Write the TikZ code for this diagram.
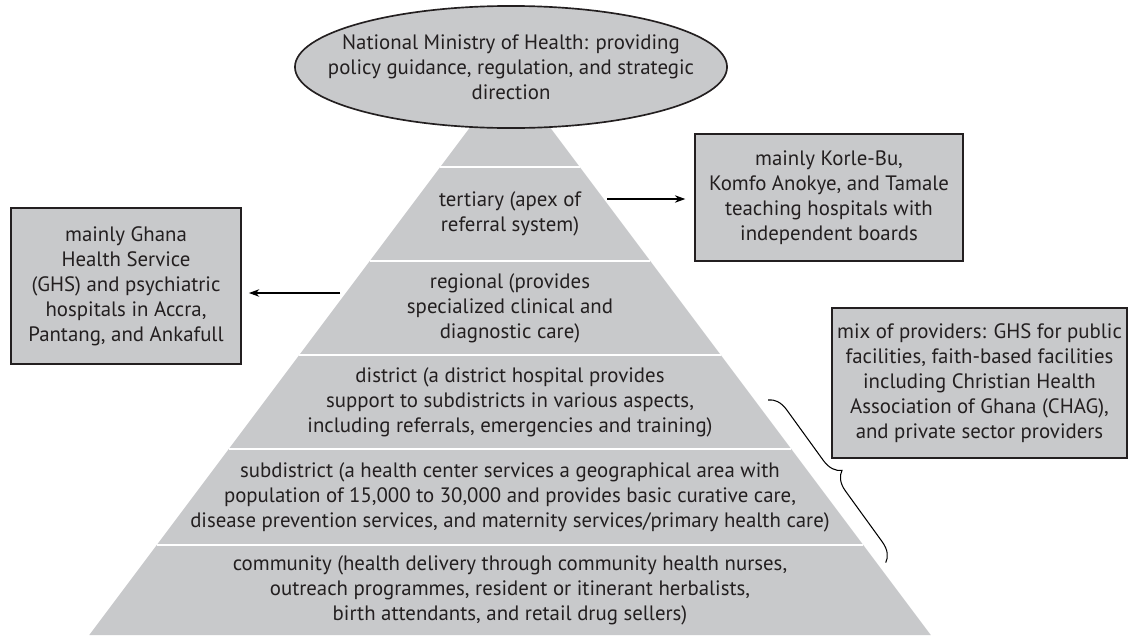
\documentclass[tikz,border=0pt]{standalone}
\usepackage{fontspec}
\setmainfont{PT Sans}
\usepackage{xcolor}
\usetikzlibrary{decorations.pathreplacing,arrows.meta}
\definecolor{tiergray}{RGB}{200,201,203}
\definecolor{inkdark}{RGB}{35,31,32}
\tikzset{
  infobox/.style={draw=inkdark, line width=0.8pt, fill=tiergray, align=center,
    inner sep=0pt, font=\fontsize{10}{12}\selectfont},
  tiertext/.style={align=center, font=\fontsize{10}{12}\selectfont}
}
\begin{document}
\begin{tikzpicture}[
    x=0.48pt, y=-0.48pt,
    >={Stealth[length=5pt,width=3.6pt]},
    line width=0.5pt,
    every node/.style={text=inkdark}
  ]
    \useasboundingbox (0,0) rectangle (1128,635);
    % pyramid
    \coordinate (apex) at (510,74);
    \coordinate (baseL) at (89.25,635);
    \coordinate (baseR) at (930.75,635);
    \fill[tiergray] (apex) -- (baseL) -- (baseR) -- cycle;
    \foreach \y in {167,261,355,449,545}
      \draw[white, line width=1pt] ({510-0.75*(\y-74)},\y) -- ({510+0.75*(\y-74)},\y);
    \node[tiertext] (tertiary) at (510,214) {tertiary (apex of\\referral system)};
    \node[tiertext] (regional) at (510,308) {regional (provides\\specialized clinical and\\diagnostic care)};
    \node[tiertext] (district) at (510,402) {district (a district hospital provides\\support to subdistricts in various aspects,\\including referrals, emergencies and training)};
    \node[tiertext] (subdistrict) at (510,497) {subdistrict (a health center services a geographical area with\\population of 15,000 to 30,000 and provides basic curative care,\\disease prevention services, and maternity services/primary health care)};
    \node[tiertext] (community) at (510,590) {community (health delivery through community health nurses,\\outreach programmes, resident or itinerant herbalists,\\birth attendants, and retail drug sellers)};
    % top of the system
    \filldraw[draw=inkdark, fill=tiergray, line width=0.8pt] (511,67) ellipse [x radius=103.7pt, y radius=29.3pt];
    \node[tiertext] (ministry) at (511,67)
      {National Ministry of Health: providing\\policy guidance, regulation, and strategic\\direction};
    % providers
    \node[infobox, minimum width=128.6pt, minimum height=61pt] (teaching) at (829,197.5)
      {mainly Korle-Bu,\\Komfo Anokye, and Tamale\\teaching hospitals with\\independent boards};
    \node[infobox, minimum width=110.4pt, minimum height=74.9pt] (ghs) at (126,286)
      {mainly Ghana\\Health Service\\(GHS) and psychiatric\\hospitals in Accra,\\Pantang, and Ankafull};
    \node[infobox, minimum width=141.6pt, minimum height=72pt] (mix) at (979.5,383)
      {mix of providers: GHS for public\\facilities, faith-based facilities\\including Christian Health\\Association of Ghana (CHAG),\\and private sector providers};
    \coordinate (tierR) at (607,199);
    \coordinate (regL) at (340,293);
    \draw[->, shorten >=4.3pt] (tierR) -- (tierR -| teaching.west);
    \draw[->, shorten >=3.4pt] (regL) -- (regL -| ghs.east);
    \coordinate (braceT) at (768,400);
    \coordinate (braceB) at (886,563);
    \draw[decorate, decoration={brace, amplitude=9pt}] (braceT) -- (braceB);
  \end{tikzpicture}
\end{document}
